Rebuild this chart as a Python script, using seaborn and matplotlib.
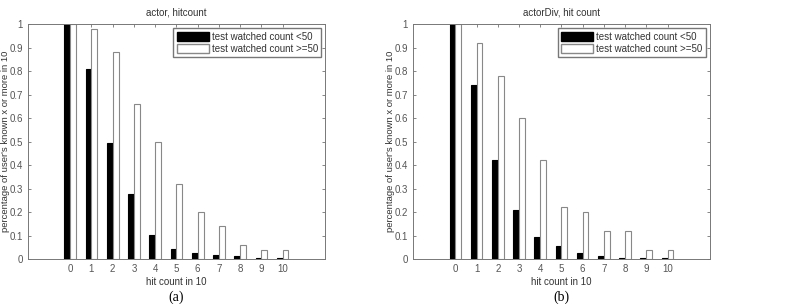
import pandas as pd
import seaborn as sns
import matplotlib.pyplot as plt
from matplotlib.patches import Patch

# Values
hits = list(range(11))
actor_low = [1.0, 0.81, 0.494, 0.277, 0.104, 0.044, 0.026, 0.019, 0.013, 0.004, 0.004]
actor_high = [1.0, 0.979, 0.88, 0.659, 0.498, 0.321, 0.199, 0.139, 0.058, 0.038, 0.038]
div_low = [1.0, 0.741, 0.422, 0.209, 0.092, 0.055, 0.024, 0.013, 0.003, 0.004, 0.004]
div_high = [1.0, 0.92, 0.778, 0.60, 0.42, 0.22, 0.199, 0.12, 0.12, 0.038, 0.038]
groups = ["test watched count <50", "test watched count >=50"]
titles = ["actor, hitcount", "actorDiv, hit count"]
captions = ["(a)", "(b)"]

sns.set_style("ticks")
plt.rcParams["font.family"] = ["Liberation Sans", "DejaVu Sans"]
plt.rcParams["text.color"] = "#333333"
plt.rcParams["axes.labelcolor"] = "#333333"
plt.rcParams["xtick.color"] = "#555555"
plt.rcParams["ytick.color"] = "#555555"

fig = plt.figure(figsize=(7.89, 3.04), dpi=100)
positions = [[0.0351, 0.148, 0.377, 0.772], [0.5234, 0.148, 0.3764, 0.772]]
series = [(actor_low, actor_high), (div_low, div_high)]

for pos, (low, high), title, cap in zip(positions, series, titles, captions):
    ax = fig.add_axes(pos)
    df = pd.DataFrame({
        "hit": hits * 2,
        "value": low + high,
        "group": [groups[0]] * len(hits) + [groups[1]] * len(hits),
    })
    sns.barplot(data=df, x="hit", y="value", hue="group", palette=["black", "white"],
                width=0.55, ax=ax, legend=False, linewidth=0.8)
    for c, ec in zip(ax.containers, ["black", "#888888"]):
        for p in c:
            p.set_edgecolor(ec)
    ax.set_xlim(-2, 12)
    ax.set_ylim(0, 1)
    ax.set_yticks([i / 10 for i in range(11)])
    ax.set_yticklabels(["0"] + [f"{i/10:g}" for i in range(1, 10)] + ["1"])
    ax.tick_params(direction="in", length=2.5, labelsize=7, top=True, right=True, width=0.5)
    for s in ax.spines.values():
        s.set_visible(True)
        s.set_color("#777777")
        s.set_linewidth(0.7)
    ax.set_title(title, fontsize=7, pad=6)
    ax.set_xlabel("hit count in 10", fontsize=7, labelpad=2)
    ax.set_ylabel("percentage of user's known x or more in 10", fontsize=6.8)
    ax.yaxis.set_label_coords(-0.061, 0.5)
    handles = [Patch(facecolor="black", edgecolor="black"),
               Patch(facecolor="white", edgecolor="#888888")]
    ax.legend(handles, groups, loc="upper right", fontsize=7, frameon=True,
              fancybox=False, edgecolor="#555555", handlelength=3.3, handleheight=1.0,
              borderaxespad=0.4, borderpad=0.35, labelspacing=0.25, handletextpad=0.3)
    ax.text(0.5, -0.165, cap, transform=ax.transAxes, ha="center", va="center",
            fontsize=10, family="Liberation Serif", color="black")

fig.savefig("out.png", dpi=100)
